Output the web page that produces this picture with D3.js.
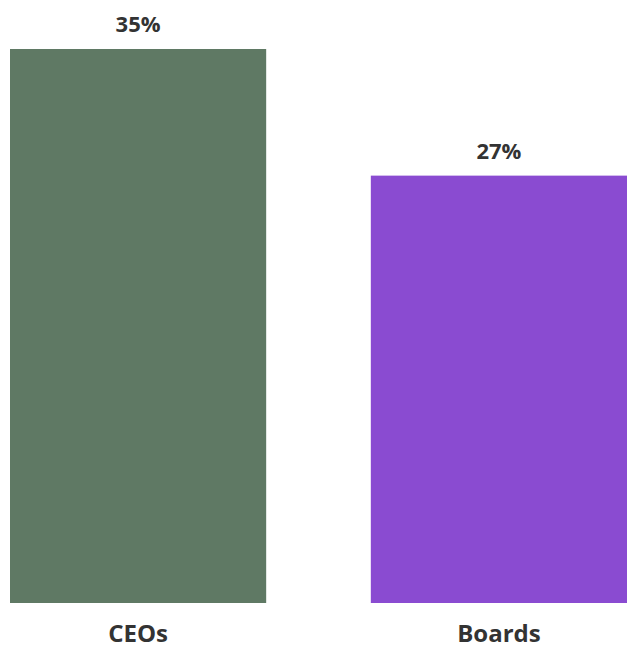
<!DOCTYPE html>
<html>
<head>
<meta charset="utf-8">
<script src="https://cdn.jsdelivr.net/npm/d3@7"></script>
<style>
  body { margin: 0; background: #fff; }
  svg { display: block; }
</style>
</head>
<body>
<svg id="chart" width="627" height="646"></svg>
<script>
// values
const categories = ['CEOs', 'Boards']
const values = [35, 27]
const colors = ['#5f7964', '#8a4bd1']

const width = 627
const height = 646
const svg = d3.select('#chart')

const x = d3.scaleBand()
	.domain(categories)
	.range([10, 627])
	.paddingInner(0.29)
	.paddingOuter(0)

const y = d3.scaleLinear()
	.domain([0, 35])
	.range([603, 49])

svg.append('g')
	.selectAll('rect')
	.data(categories)
	.join('rect')
		.attr('x', d => x(d))
		.attr('y', (d, i) => y(values[i]))
		.attr('width', x.bandwidth())
		.attr('height', (d, i) => y(0) - y(values[i]))
		.attr('fill', (d, i) => colors[i])

// value labels above the bars
svg.append('g')
	.attr('fill', '#333')
	.attr('text-anchor', 'middle')
	.attr('font-family', "'Open Sans', sans-serif")
	.attr('font-weight', 'bold')
	.attr('font-size', 22)
	.selectAll('text')
	.data(categories)
	.join('text')
		.attr('x', d => x(d) + x.bandwidth() / 2)
		.attr('y', (d, i) => y(values[i]) - 17)
		.text((d, i) => values[i] + '%')

// category axis
const xAxis = g => g
	.attr('transform', `translate(0,${y(0)})`)
	.call(d3.axisBottom(x).tickSize(0).tickPadding(22))
	.call(g => g.select('.domain').remove())
	.call(g => g.selectAll('text')
		.attr('fill', '#333')
		.attr('font-family', "'Open Sans', sans-serif")
		.attr('font-weight', 'bold')
		.attr('font-size', 24)
		.attr('dy', '0.71em'))

svg.append('g').call(xAxis)
</script>
</body>
</html>
